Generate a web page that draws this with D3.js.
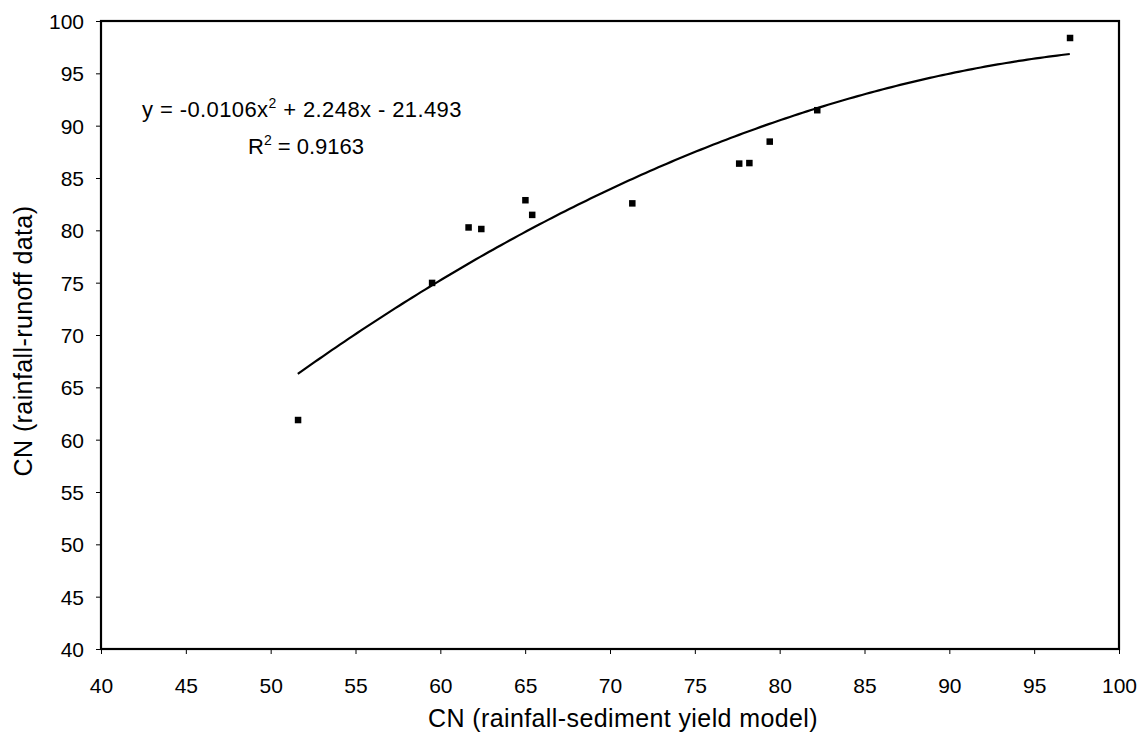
<!DOCTYPE html>
<html lang="en">
<head>
    <meta charset="UTF-8">
    <title>CN comparison</title>
    <script src="https://d3js.org/d3.v7.min.js"></script>
    <style>
        body { margin: 0; background: #fff; font-family: "Liberation Sans", Arial, sans-serif; }
        .tick text { font-size: 21px; fill: #000; }
        .axis-title { font-size: 25px; letter-spacing: 0.4px; fill: #000; }
        .eq { font-size: 22px; fill: #000; }
    </style>
</head>
<body>
<div id="chart"></div>
<script>
    // observed points: CN from rainfall-sediment yield model vs CN from rainfall-runoff data
    const cnModel = [51.6, 59.5, 61.65, 62.4, 65.0, 65.4, 71.3, 77.6, 78.2, 79.4, 82.2, 97.1];
    const cnData  = [61.9, 75.0, 80.3, 80.15, 82.9, 81.5, 82.6, 86.4, 86.45, 88.5, 91.5, 98.4];

    // polynomial trendline y = a x^2 + b x + c
    const coef = [-0.0106, 2.248, -21.493];
    const xTicks = [40, 45, 50, 55, 60, 65, 70, 75, 80, 85, 90, 95, 100];
    const yTicks = [40, 45, 50, 55, 60, 65, 70, 75, 80, 85, 90, 95, 100];

    const width = 1143, height = 746;
    const margin = { top: 21, right: 24, bottom: 97, left: 101 };
    const innerW = width - margin.left - margin.right;
    const innerH = height - margin.top - margin.bottom;

    const svg = d3.select("#chart").append("svg")
        .attr("width", width)
        .attr("height", height);

    const g = svg.append("g")
        .attr("transform", `translate(${margin.left},${margin.top})`);

    const x = d3.scaleLinear().domain([40, 100]).range([0, innerW]);
    const y = d3.scaleLinear().domain([40, 100]).range([innerH, 0]);

    // x axis
    const xAxis = g.append("g")
        .attr("transform", `translate(0,${innerH})`)
        .call(d3.axisBottom(x).tickValues(xTicks).tickSize(5).tickPadding(24).tickFormat(d3.format("d")));
    xAxis.select(".domain").remove();
    xAxis.selectAll(".tick line").attr("stroke", "#000").attr("stroke-width", 1);

    // y axis
    const yAxis = g.append("g")
        .call(d3.axisLeft(y).tickValues(yTicks).tickSize(5).tickPadding(12).tickFormat(d3.format("d")));
    yAxis.select(".domain").remove();
    yAxis.selectAll(".tick line").attr("stroke", "#000").attr("stroke-width", 1);
    yAxis.selectAll(".tick text").attr("dy", "0.36em");

    // plot frame
    g.append("rect")
        .attr("width", innerW)
        .attr("height", innerH)
        .attr("fill", "none")
        .attr("stroke", "#000")
        .attr("stroke-width", 2.2);

    // trendline over the range of the data
    const fit = v => coef[0] * v * v + coef[1] * v + coef[2];
    const [xmin, xmax] = d3.extent(cnModel);
    const curve = d3.range(xmin, xmax + 0.001, 0.25).map(v => [v, fit(v)]);
    g.append("path")
        .datum(curve)
        .attr("fill", "none")
        .attr("stroke", "#000")
        .attr("stroke-width", 2.2)
        .attr("d", d3.line().x(d => x(d[0])).y(d => y(d[1])));

    // points
    g.selectAll("rect.pt")
        .data(cnModel.map((v, i) => [v, cnData[i]]))
        .join("rect")
        .attr("class", "pt")
        .attr("x", d => x(d[0]) - 3)
        .attr("y", d => y(d[1]) - 3)
        .attr("width", 6.5)
        .attr("height", 6.5)
        .attr("fill", "#000");

    // equation label
    const eq = g.append("text").attr("class", "eq")
        .attr("x", 41).attr("y", 96)
        .style("letter-spacing", "0.4px");
    eq.append("tspan").text("y = -0.0106x");
    eq.append("tspan").attr("font-size", 14).attr("dy", -9).text("2");
    eq.append("tspan").attr("dy", 9).text(" + 2.248x - 21.493");

    const r2 = g.append("text").attr("class", "eq")
        .attr("x", 147).attr("y", 133);
    r2.append("tspan").text("R");
    r2.append("tspan").attr("font-size", 14).attr("dy", -9).text("2");
    r2.append("tspan").attr("dy", 9).text(" = 0.9163");

    // axis titles
    svg.append("text").attr("class", "axis-title")
        .attr("x", 623)
        .attr("y", 727)
        .attr("text-anchor", "middle")
        .text("CN (rainfall-sediment yield model)");

    svg.append("text").attr("class", "axis-title")
        .attr("transform", `translate(32,341) rotate(-90)`)
        .attr("text-anchor", "middle")
        .text("CN (rainfall-runoff data)");
</script>
</body>
</html>
